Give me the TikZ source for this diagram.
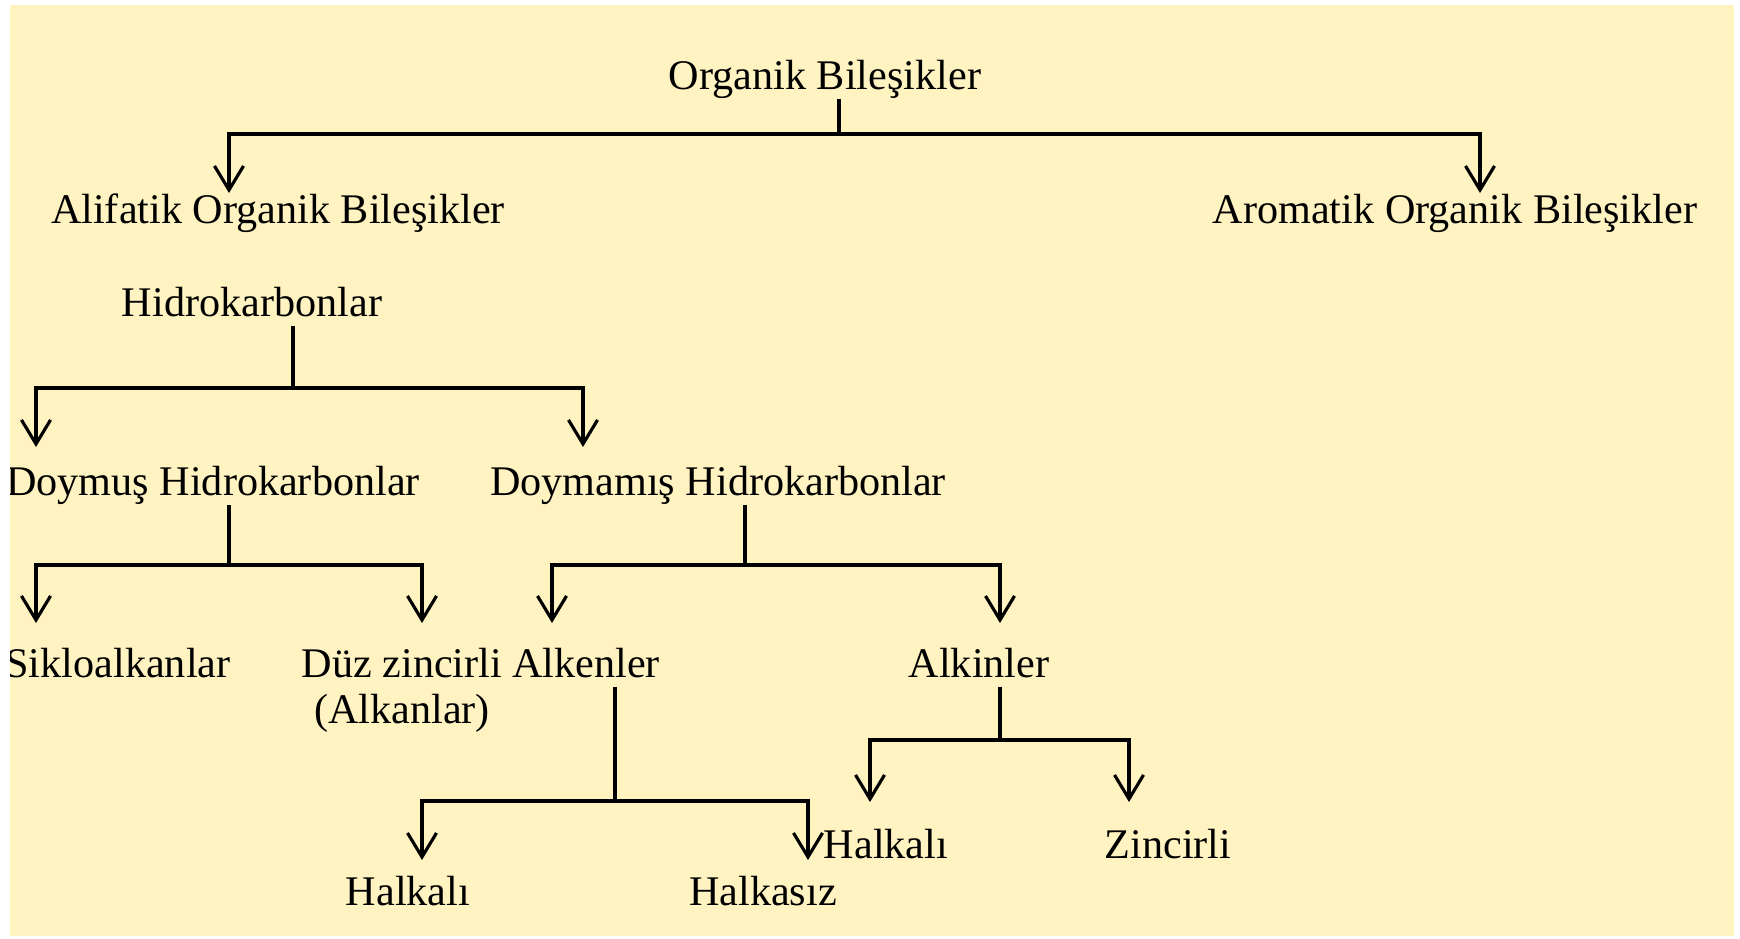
\documentclass[tikz,border=0pt]{standalone}
\usepackage{fontspec}
\setmainfont{Liberation Serif}
\usetikzlibrary{arrows.meta, positioning}
\definecolor{paper}{RGB}{255,243,194}

\begin{document}
\begin{tikzpicture}[x=0.01cm, y=-0.01cm,
        txt/.style={inner sep=0pt, anchor=base, font=\fontsize{12pt}{13pt}\selectfont},
        lbl/.style={txt, text height=0.7em, text depth=0.25em},
        stem/.style={line width=0.9pt},
        conn/.style={stem, -{Straight Barb[length=2.4mm, width=2.9mm]}}]
        \useasboundingbox (0,0) rectangle (1740,938);
        \fill[paper] (10,5) rectangle (1734,936);

        \begin{scope}
        \clip (10,5) rectangle (1734,936);
        \node[lbl] (OB) at (825,89) {Organik Bileşikler};
        \node[lbl] (AL) at (278,223) {Alifatik Organik Bileşikler};
        \node[lbl] (AR) at (1455,223) {Aromatik Organik Bileşikler};
        \node[lbl] (H) at (252,316) {Hidrokarbonlar};
        \node[lbl] (DH) at (213,495) {Doymuş Hidrokarbonlar};
        \node[lbl] (DM) at (718,495) {Doymamış Hidrokarbonlar};
        \node[lbl] (SK) at (118,677) {Sikloalkanlar};
        \node[txt, align=center] (DZ) at (402,723) {Düz zincirli\\(Alkanlar)};
        \node[lbl] (AE) at (586,677) {Alkenler};
        \node[lbl] (AI) at (979,677) {Alkinler};
        \node[lbl] (HA) at (408,905) {Halkalı};
        \node[lbl] (HS) at (763,905) {Halkasız};
        \node[lbl] (HL) at (886,858) {Halkalı};
        \node[lbl] (ZN) at (1168,858) {Zincirli};
        \end{scope}

        \coordinate (j0) at (839,134);
        \coordinate (AL-in) at (229,193);
        \coordinate (AR-in) at (1480,193);
        \coordinate (j1) at (293,388);
        \coordinate (DH-in) at (36,447);
        \coordinate (DM-in) at (583,447);
        \coordinate (j2) at (229,565);
        \coordinate (SK-in) at (36,623);
        \coordinate (DZ-in) at (422,623);
        \coordinate (j3) at (745,565);
        \coordinate (AE-in) at (552,623);
        \coordinate (AI-in) at (1000,623);
        \coordinate (j4) at (615,801);
        \coordinate (HA-in) at (422,860);
        \coordinate (HS-in) at (808,860);
        \coordinate (j5) at (1000,740);
        \coordinate (HL-in) at (870,802);
        \coordinate (ZN-in) at (1129,802);

        \draw[stem] (OB.south -| j0) -- (j0);
        \draw[conn] (j0) -| (AL-in);
        \draw[conn] (j0) -| (AR-in);
        \draw[stem] (H.south -| j1) -- (j1);
        \draw[conn] (j1) -| (DH-in);
        \draw[conn] (j1) -| (DM-in);
        \draw[stem] (DH.south -| j2) -- (j2);
        \draw[conn] (j2) -| (SK-in);
        \draw[conn] (j2) -| (DZ-in);
        \draw[stem] (DM.south -| j3) -- (j3);
        \draw[conn] (j3) -| (AE-in);
        \draw[conn] (j3) -| (AI-in);
        \draw[stem] (AE.south -| j4) -- (j4);
        \draw[conn] (j4) -| (HA-in);
        \draw[conn] (j4) -| (HS-in);
        \draw[stem] (AI.south -| j5) -- (j5);
        \draw[conn] (j5) -| (HL-in);
        \draw[conn] (j5) -| (ZN-in);
\end{tikzpicture}
\end{document}
